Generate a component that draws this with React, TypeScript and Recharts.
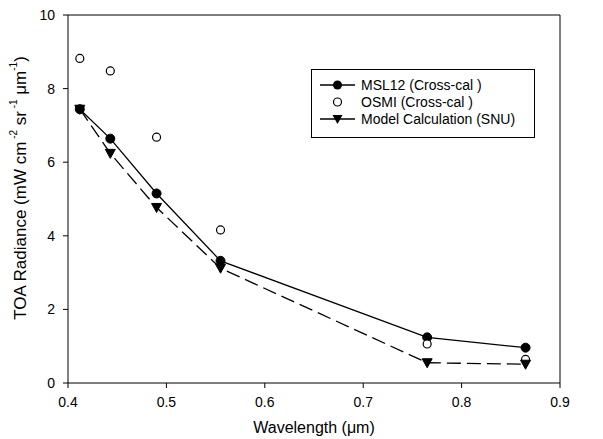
import React from 'react';
import { LineChart, Line, XAxis, YAxis, ReferenceLine } from 'recharts';

const wavelengths = [0.412, 0.443, 0.49, 0.555, 0.765, 0.865];
const msl12 = [7.44, 6.64, 5.15, 3.32, 1.24, 0.96];
const osmi = [8.82, 8.48, 6.68, 4.16, 1.06, 0.64];
const model = [7.44, 6.24, 4.77, 3.12, 0.55, 0.51];
const xTicks = [0.4, 0.5, 0.6, 0.7, 0.8, 0.9];
const yTicks = [0, 2, 4, 6, 8, 10];

const data = wavelengths.map((wl, i) => ({ wl, msl12: msl12[i], osmi: osmi[i], model: model[i] }));

const FONT = '"Liberation Sans", Arial, sans-serif';

const Triangle = (props: any) => {
  const { cx, cy, index } = props;
  if (cx == null || cy == null) return null;
  return <path key={`t${index}`} d={`M${cx - 5},${cy - 4} L${cx + 5},${cy - 4} L${cx},${cy + 5} Z`} fill="#000" stroke="#000" strokeWidth={1} />;
};

const LegendBox = () => (
  <svg width={225} height={70} style={{ display: 'block' }}>
    <rect x={0.5} y={0.5} width={223} height={68} fill="#fff" stroke="#000" strokeWidth={1} />
    <line x1={9} x2={44} y1={16} y2={16} stroke="#000" strokeWidth={1.3} />
    <circle cx={26.5} cy={16} r={4.5} fill="#000" />
    <text x={50} y={21} fontSize={14} fontFamily={FONT} fill="#000">MSL12 (Cross-cal )</text>
    <circle cx={26.5} cy={33} r={4} fill="#fff" stroke="#000" strokeWidth={1.2} />
    <text x={50} y={38} fontSize={14} fontFamily={FONT} fill="#000">OSMI (Cross-cal )</text>
    <line x1={9} x2={44} y1={50} y2={50} stroke="#000" strokeWidth={1.3} />
    <path d="M21.5,46 L31.5,46 L26.5,55 Z" fill="#000" />
    <text x={50} y={55} fontSize={14} fontFamily={FONT} fill="#000">Model Calculation (SNU)</text>
  </svg>
);

const YLabel = (props: any) => {
  const vb = props.viewBox || {};
  const x = (vb.x ?? 0) + 20;
  const y = (vb.y ?? 0) + (vb.height ?? 0) / 2 - 11;
  return (
    <text x={x} y={y} transform={`rotate(-90 ${x} ${y})`} textAnchor="middle" dominantBaseline="central" fontSize={17} fontFamily={FONT} fill="#000">
      TOA Radiance (mW cm<tspan dy={-7} fontSize={10}> -2</tspan><tspan dy={7}> sr</tspan><tspan dy={-7} fontSize={10}> -1</tspan><tspan dy={7}>  μm</tspan><tspan dy={-7} fontSize={10}>-1</tspan><tspan dy={7}>)</tspan>
    </text>
  );
};

const XLabel = (props: any) => {
  const vb = props.viewBox || {};
  const x = (vb.x ?? 0) + (vb.width ?? 0) / 2;
  const y = (vb.y ?? 0) + 50;
  return (
    <text x={x} y={y} textAnchor="middle" fontSize={16} fontFamily={FONT} fill="#000">Wavelength (μm)</text>
  );
};

export default function App() {
  return (
    <div style={{ position: 'absolute', left: 0, top: 0, width: 603, height: 439, background: '#fff' }}>
      <LineChart width={603} height={439} data={data} margin={{ top: 15, right: 43, left: 0, bottom: 0 }}>
        <XAxis
          dataKey="wl"
          type="number"
          domain={[0.4, 0.9]}
          ticks={xTicks}
          tickFormatter={(v: number) => v.toFixed(1)}
          height={56}
          stroke="#000"
          tickSize={5}
          tick={{ fill: '#000', fontSize: 14, fontFamily: FONT }}
          tickMargin={9}
          allowDataOverflow
          label={<XLabel />}
        />
        <YAxis
          type="number"
          domain={[0, 10]}
          ticks={yTicks}
          width={68}
          stroke="#000"
          tickSize={5}
          tick={{ fill: '#000', fontSize: 14, fontFamily: FONT }}
          tickMargin={8}
          label={<YLabel />}
        />
        <ReferenceLine y={10} stroke="#000" strokeWidth={1} />
        <ReferenceLine x={0.9} stroke="#000" strokeWidth={1} />
        <Line dataKey="msl12" stroke="#000" strokeWidth={1.3} isAnimationActive={false}
          dot={{ r: 4.5, fill: '#000', stroke: '#000', strokeWidth: 1 }} activeDot={false} />
        <Line dataKey="osmi" stroke="none" isAnimationActive={false}
          dot={{ r: 4, fill: '#fff', stroke: '#000', strokeWidth: 1.2 }} activeDot={false} />
        <Line dataKey="model" stroke="#000" strokeWidth={1.3} strokeDasharray="14 6" isAnimationActive={false}
          dot={<Triangle />} activeDot={false} />
      </LineChart>
      <div style={{ position: 'absolute', left: 311, top: 69 }}>
        <LegendBox />
      </div>
    </div>
  );
}
